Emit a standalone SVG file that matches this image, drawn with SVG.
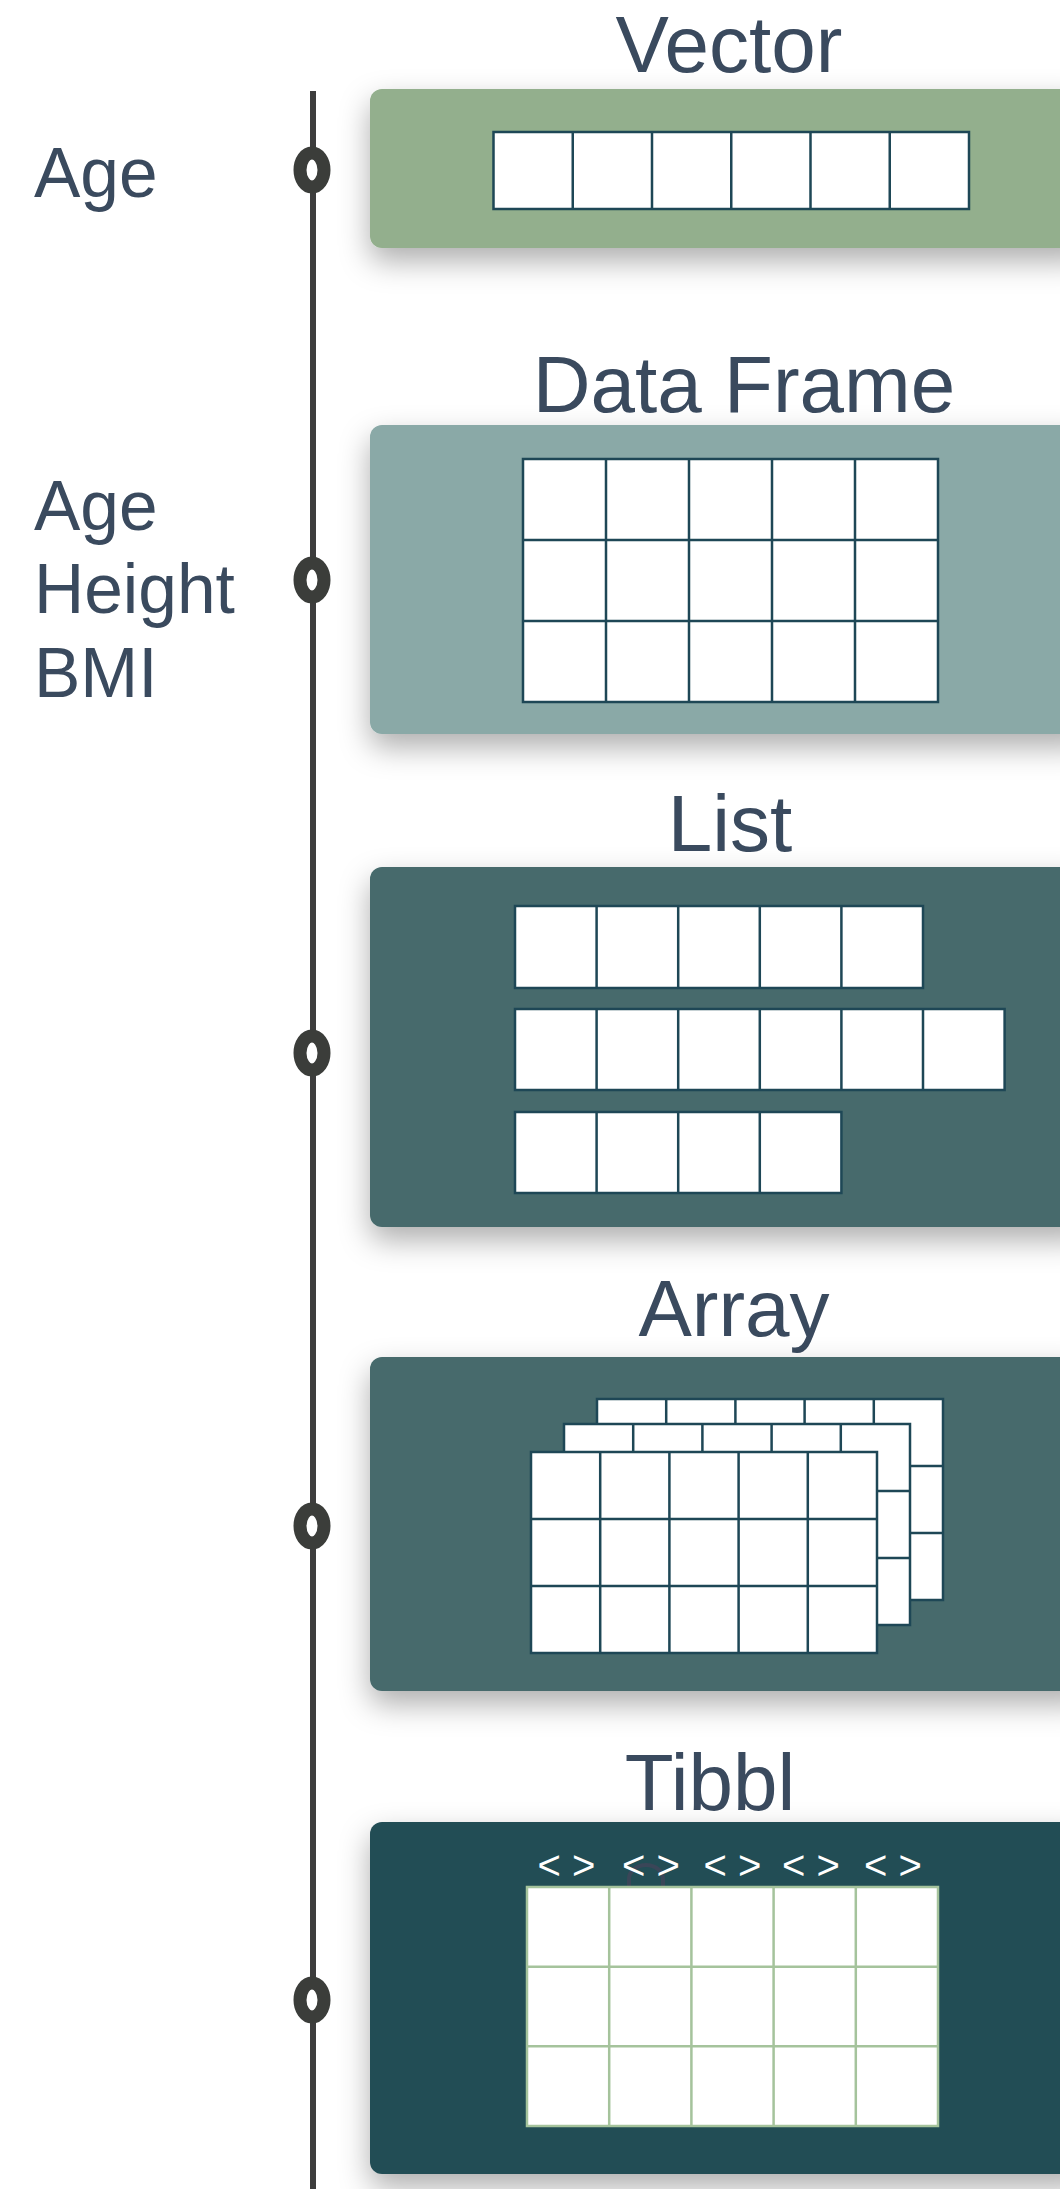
<svg xmlns="http://www.w3.org/2000/svg" width="1060" height="2189" viewBox="0 0 1060 2189">
  <defs>
    <style>
      .title { font-family: "Liberation Sans", Arial, sans-serif; font-size: 80px; fill: #3a4a5e; text-anchor: middle; }
      .label { font-family: "Liberation Sans", Arial, sans-serif; font-size: 69.5px; fill: #3a4a5e; }
      .chev { font-family: "Liberation Sans", Arial, sans-serif; font-size: 40px; fill: #ffffff; text-anchor: middle; }
      .panel { filter: url(#shadow); }
      .cell { fill: #ffffff; stroke: #1e4756; stroke-width: 2.5; }
      .grid { fill: none; stroke: #1e4756; stroke-width: 2.5; }
      .tcell { fill: #ffffff; stroke: #a5c39c; stroke-width: 2.5; }
      .tgrid { fill: none; stroke: #a5c39c; stroke-width: 2.5; }
      .ring { fill: #ffffff; stroke: #3b3d3a; stroke-width: 13; }
    </style>
    <filter id="shadow" x="-10%" y="-30%" width="130%" height="180%">
      <feDropShadow dx="0" dy="13" stdDeviation="15" flood-color="#000000" flood-opacity="0.32"/>
    </filter>
    <!-- one 5x3 sheet of the array stack -->
    <g id="sheet">
      <rect class="cell" x="0" y="0" width="346" height="201"/>
      <path class="grid" d="M69.2,0V201 M138.4,0V201 M207.6,0V201 M276.8,0V201 M0,67H346 M0,134H346"/>
    </g>
  </defs>

  <rect width="1060" height="2189" fill="#ffffff"/>

  <!-- timeline spine -->
  <g id="connectors">
    <line x1="313" y1="91" x2="313" y2="2189" stroke="#3d3d3d" stroke-width="6"/>
  </g>

  <!-- Vector -->
  <g id="vector">
    <text class="title" x="729" y="72">Vector</text>
    <rect class="panel" x="370" y="89" width="720" height="159" rx="12" fill="#93af8d"/>
    <rect class="cell" x="493.5" y="132" width="475.5" height="77"/>
    <path class="grid" d="M572.75,132V209 M652,132V209 M731.25,132V209 M810.5,132V209 M889.75,132V209"/>
    <text class="label" x="34" y="197">Age</text>
    <ellipse class="ring" cx="312" cy="170" rx="12" ry="17"/>
  </g>

  <!-- Data Frame -->
  <g id="data-frame">
    <text class="title" x="744" y="412">Data Frame</text>
    <rect class="panel" x="370" y="425" width="720" height="309" rx="12" fill="#8aa9a7"/>
    <rect class="cell" x="523" y="459" width="415" height="243"/>
    <path class="grid" d="M606,459V702 M689,459V702 M772,459V702 M855,459V702 M523,540H938 M523,621H938"/>
    <text class="label" x="34" y="530">Age</text>
    <text class="label" x="34" y="613">Height</text>
    <text class="label" x="34" y="697">BMI</text>
    <ellipse class="ring" cx="312" cy="580" rx="12" ry="17"/>
  </g>

  <!-- List -->
  <g id="list">
    <text class="title" x="730" y="851">List</text>
    <rect class="panel" x="370" y="867" width="720" height="360" rx="12" fill="#466b6c"/>
    <rect class="cell" x="515" y="906" width="408" height="82"/>
    <path class="grid" d="M596.6,906V988 M678.2,906V988 M759.8,906V988 M841.4,906V988"/>
    <rect class="cell" x="515" y="1009" width="489.6" height="81"/>
    <path class="grid" d="M596.6,1009V1090 M678.2,1009V1090 M759.8,1009V1090 M841.4,1009V1090 M923,1009V1090"/>
    <rect class="cell" x="515" y="1112" width="326.4" height="81"/>
    <path class="grid" d="M596.6,1112V1193 M678.2,1112V1193 M759.8,1112V1193"/>
    <ellipse class="ring" cx="312" cy="1053" rx="12" ry="17"/>
  </g>

  <!-- Array -->
  <g id="array">
    <text class="title" x="734" y="1336">Array</text>
    <rect class="panel" x="370" y="1357" width="720" height="334" rx="12" fill="#466b6c"/>
    <use href="#sheet" x="597" y="1399"/>
    <use href="#sheet" x="564" y="1424"/>
    <use href="#sheet" x="531" y="1452"/>
    <ellipse class="ring" cx="312" cy="1526" rx="12" ry="17"/>
  </g>

  <!-- Tibbl -->
  <g id="tibbl">
    <text class="title" x="710" y="1810">Tibbl</text>
    <rect class="panel" x="370" y="1822" width="720" height="352" rx="12" fill="#244d55"/>
    <path d="M629,1887V1879A17,14 0 0 1 663,1879V1887" fill="none" stroke="#3a4658" stroke-width="4"/>
    <rect class="tcell" x="527" y="1887" width="411" height="239"/>
    <path class="tgrid" d="M609.2,1887V2126 M691.4,1887V2126 M773.6,1887V2126 M855.8,1887V2126 M527,1966.7H938 M527,2046.3H938"/>
    <text class="chev" x="566.5" y="1879">&lt; &gt;</text>
    <text class="chev" x="651" y="1879">&lt; &gt;</text>
    <text class="chev" x="732.5" y="1879">&lt; &gt;</text>
    <text class="chev" x="811" y="1879">&lt; &gt;</text>
    <text class="chev" x="893" y="1879">&lt; &gt;</text>
    <ellipse class="ring" cx="312" cy="2000" rx="12" ry="17"/>
  </g>
</svg>
